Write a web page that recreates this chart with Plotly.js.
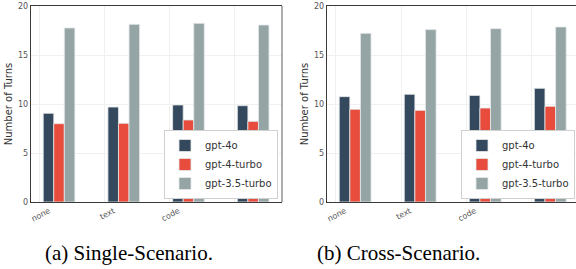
<!DOCTYPE html>
<html>
<head>
<meta charset="utf-8">
<script src="https://cdn.plot.ly/plotly-3.0.1.min.js"></script>
<style>
html,body{margin:0;padding:0;background:#fff;}
#chart{width:576px;height:269px;}
</style>
</head>
<body>
<div id="chart"></div>
<script>
// ---- data ----
const categories = ['none', 'text', 'code', ''];
const models = ['gpt-4o', 'gpt-4-turbo', 'gpt-3.5-turbo'];
const colors = ['#34495e', '#e74c3c', '#95a5a6'];

const singleGpt4o = [9.05, 9.69, 9.9, 9.83];
const singleGpt4turbo = [7.99, 8.03, 8.37, 8.23];
const singleGpt35turbo = [17.76, 18.13, 18.23, 18.06];

const crossGpt4o = [10.75, 10.99, 10.88, 11.6];
const crossGpt4turbo = [9.46, 9.35, 9.59, 9.76];
const crossGpt35turbo = [17.21, 17.59, 17.69, 17.86];

const yTicks = [0, 5, 10, 15, 20];
const captions = ['(a) Single-Scenario.', '(b) Cross-Scenario.'];

// ---- build ----
const idx = categories.map((c, i) => i);
const barW = 0.163;
const barStart = 0.05;

function makeTraces(series, xa, ya, legendName) {
  return series.map((vals, k) => ({
    type: 'bar',
    x: idx,
    y: vals,
    name: models[k],
    xaxis: xa,
    yaxis: ya,
    legend: legendName,
    width: barW,
    offset: barStart + k * barW,
    marker: {color: colors[k], line: {color: '#e6e9ea', width: 0.8}},
    hoverinfo: 'skip'
  }));
}

const traces = [
  ...makeTraces([singleGpt4o, singleGpt4turbo, singleGpt35turbo], 'x', 'y', 'legend'),
  ...makeTraces([crossGpt4o, crossGpt4turbo, crossGpt35turbo], 'x2', 'y2', 'legend2')
];

const H = 269, W = 576;
const yDom = [(H - 202) / H, (H - 6) / H];
const tickFont = {family: 'DejaVu Sans', size: 8, color: '#555'};

function xAxis(domain, range) {
  return {
    domain: domain, range: range, tickmode: 'array', tickvals: idx, ticktext: categories,
    tickangle: -28, tickfont: tickFont, ticklabelshift: 9, ticklabelstandoff: 0,
    showgrid: true, gridcolor: '#f0f0f0', gridwidth: 1,
    zeroline: false, showline: true, linecolor: '#3a3a3a', linewidth: 1.3, mirror: true,
    ticks: '', ticklen: 0, fixedrange: true
  };
}
function yAxis(anchor) {
  return {
    domain: yDom, range: [0, 20], tickvals: yTicks, anchor: anchor,
    tickfont: {family: 'DejaVu Sans', size: 8, color: '#555'},
    showgrid: true, gridcolor: '#f0f0f0', zeroline: false,
    showline: true, linecolor: '#3a3a3a', linewidth: 1.3, ticks: '',
    title: {text: 'Number of Turns', font: {family: 'DejaVu Sans', size: 10, color: '#333'}, standoff: 3},
    fixedrange: true
  };
}

const legendCommon = {
  bgcolor: '#ffffff', bordercolor: '#d0d0d0', borderwidth: 1,
  font: {family: 'DejaVu Sans', size: 10, color: '#333'},
  xanchor: 'right', yanchor: 'bottom', tracegroupgap: 0, itemwidth: 30
};

const layout = {
  width: W, height: H,
  margin: {l: 0, r: 0, t: 0, b: 0},
  paper_bgcolor: '#fff', plot_bgcolor: '#fff',
  bargap: 0, barmode: 'overlay',
  showlegend: true,
  xaxis: xAxis([31 / W, 282 / W], [-0.139, 3.74]),
  yaxis: yAxis('x'),
  xaxis2: xAxis([327 / W, 1], [-0.138, 3.69]),
  yaxis2: yAxis('x2'),
  legend: Object.assign({}, legendCommon, {x: 278 / W, y: (H - 199) / H}),
  legend2: Object.assign({}, legendCommon, {x: 575 / W, y: (H - 199) / H}),
  shapes: [
    {type: 'line', xref: 'paper', yref: 'paper', x0: 282 / W, x1: 282 / W, y0: yDom[0], y1: yDom[1],
     line: {color: '#9a9a9a', width: 1.6}}
  ],
  annotations: [
    {text: captions[0], xref: 'paper', yref: 'paper', x: 129 / W, y: (H - 253) / H,
     xanchor: 'center', yanchor: 'middle', showarrow: false,
     font: {family: 'Liberation Serif', size: 21, color: '#000'}},
    {text: captions[1], xref: 'paper', yref: 'paper', x: 398 / W, y: (H - 253) / H,
     xanchor: 'center', yanchor: 'middle', showarrow: false,
     font: {family: 'Liberation Serif', size: 21, color: '#000'}}
  ]
};

Plotly.newPlot('chart', traces, layout, {staticPlot: true, displayModeBar: false});
</script>
</body>
</html>
